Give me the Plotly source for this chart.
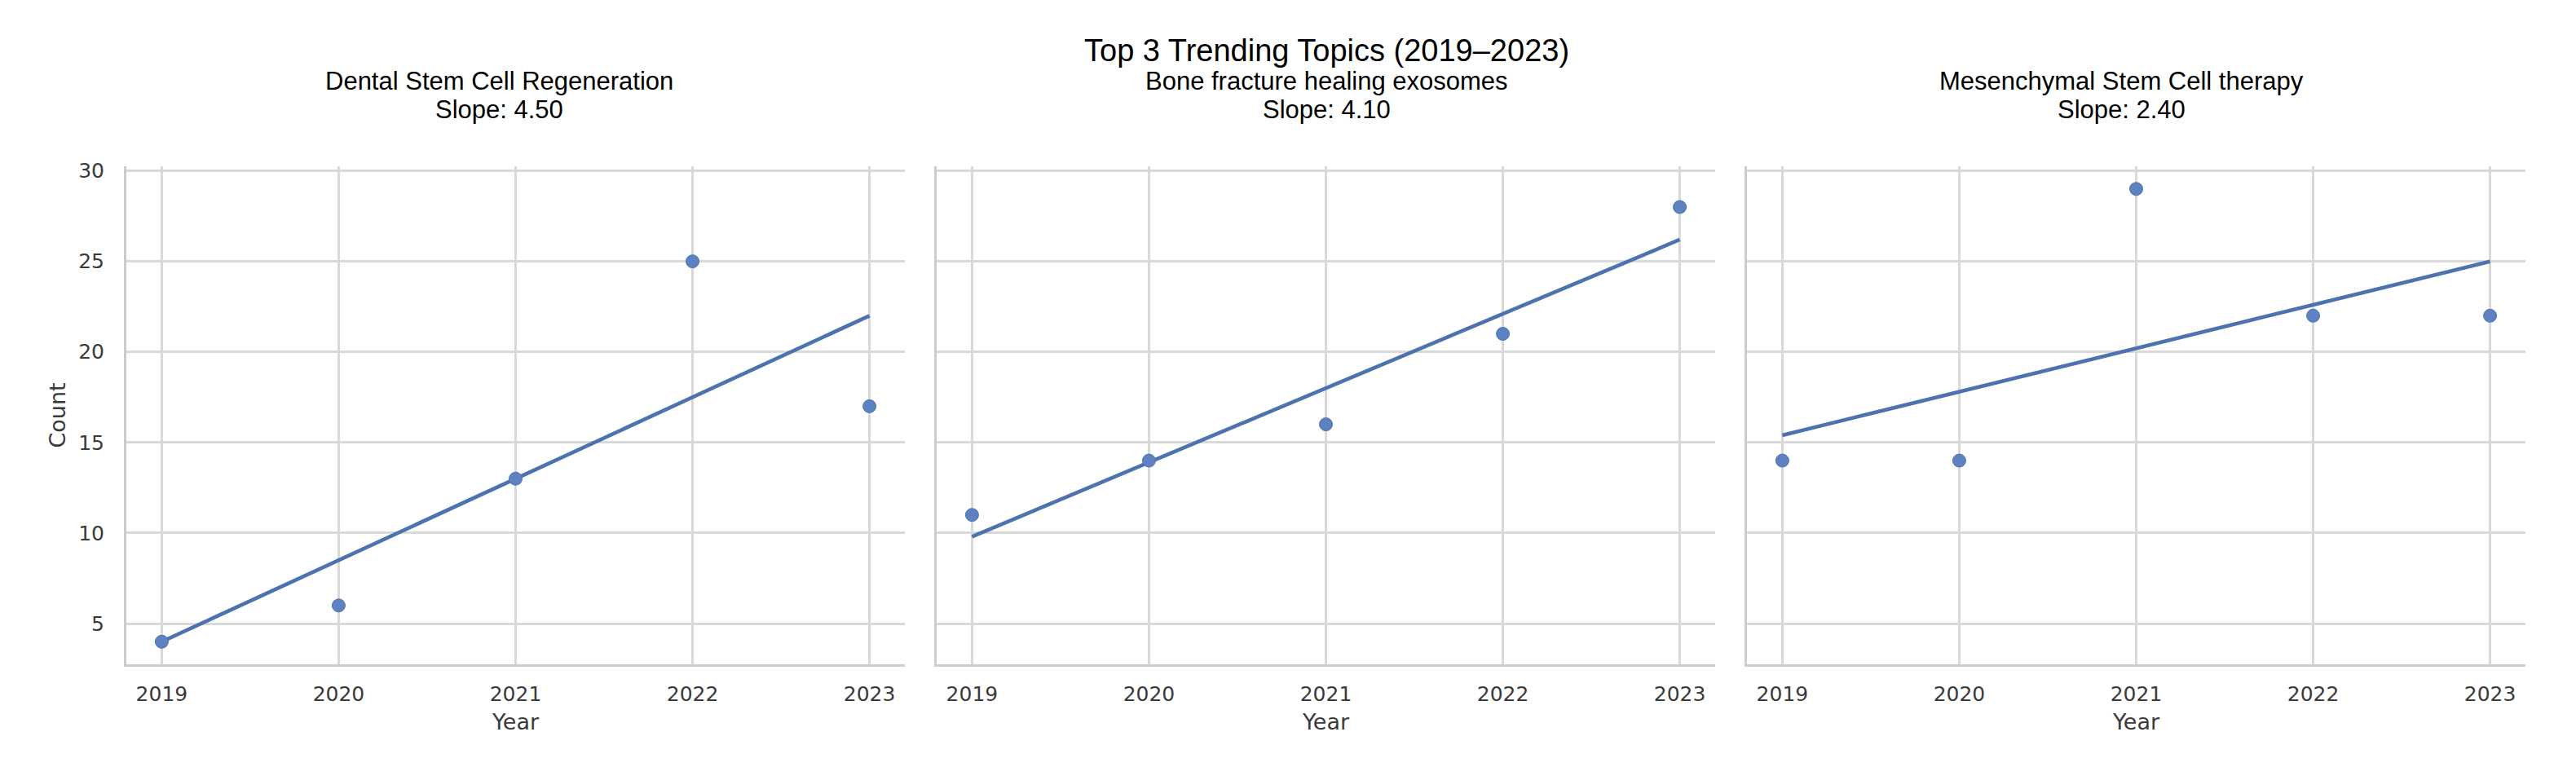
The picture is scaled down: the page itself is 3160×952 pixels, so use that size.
import numpy as np
import plotly.graph_objects as go

W, H = 3160, 952

years = [2019, 2020, 2021, 2022, 2023]
topics = ["Dental Stem Cell Regeneration", "Bone fracture healing exosomes", "Mesenchymal Stem Cell therapy"]
dental_counts = [4, 6, 13, 25, 17]
bone_counts = [11, 14, 16, 21, 28]
msc_counts = [14, 14, 29, 22, 22]
series = [dental_counts, bone_counts, msc_counts]
y_ticks = [5, 10, 15, 20, 25, 30]
x_ticks = years

main_title = "Top 3 Trending Topics (2019–2023)"

# layout in screen pixels (page body has an 8px margin)
OFF = 8
panels_px = [(155, 1110), (1149, 2104), (2143, 3098)]
title_cx = [612, 1628, 2602]
plot_top, plot_bottom = 204, 815

LINE = "#4c72b0"
MARK = "#5d81c1"
GRID = "#d9d9d9"
SPINE = "#cccccc"
TICKC = "#3a3a3a"
TFONT = "Liberation Sans, Arial, sans-serif"
AFONT = "DejaVu Sans, sans-serif"

def px_x(x):
    return (x - OFF) / W

def px_y(y):
    return 1 - (y - OFF) / H

fig = go.Figure()

for i, (vals, topic) in enumerate(zip(series, topics)):
    xa = "x" if i == 0 else f"x{i+1}"
    ya = "y" if i == 0 else f"y{i+1}"
    slope, intercept = np.polyfit(years, vals, 1)
    fit = [slope * yr + intercept for yr in years]
    fig.add_trace(go.Scatter(x=years, y=fit, mode="lines",
                             line=dict(color=LINE, width=4.6),
                             xaxis=xa, yaxis=ya, showlegend=False, hoverinfo="skip"))
    fig.add_trace(go.Scatter(x=years, y=vals, mode="markers",
                             marker=dict(color=MARK, size=16, line=dict(color=LINE, width=1)),
                             xaxis=xa, yaxis=ya, showlegend=False))
    l, r = panels_px[i]
    xkey = "xaxis" if i == 0 else f"xaxis{i+1}"
    ykey = "yaxis" if i == 0 else f"yaxis{i+1}"
    fig.layout[xkey] = dict(
        domain=[px_x(l), px_x(r)], range=[2018.8, 2023.2],
        tickvals=x_ticks, ticktext=[str(v) for v in x_ticks],
        showgrid=True, gridcolor=GRID, gridwidth=2.5, zeroline=False,
        showline=True, linecolor=SPINE, linewidth=3, mirror=False,
        ticks="", ticklabelstandoff=12, automargin=False,
        tickfont=dict(family=AFONT, size=25, color=TICKC),
        title=dict(text="Year", font=dict(family=AFONT, size=27, color=TICKC), standoff=12),
        anchor=ya,
    )
    fig.layout[ykey] = dict(
        domain=[px_y(plot_bottom), px_y(plot_top)], range=[2.75, 30.25],
        tickvals=y_ticks, ticktext=[str(v) for v in y_ticks] if i == 0 else None,
        showticklabels=(i == 0),
        showgrid=True, gridcolor=GRID, gridwidth=2.5, zeroline=False,
        showline=True, linecolor=SPINE, linewidth=3, mirror=False,
        ticks="", ticklabelstandoff=19, automargin=False,
        tickfont=dict(family=AFONT, size=25, color=TICKC),
        title=dict(text="Count" if i == 0 else "", font=dict(family=AFONT, size=27, color=TICKC), standoff=8),
        anchor=xa,
    )
    fig.add_annotation(x=px_x(title_cx[i]), y=px_y(100), xref="paper", yref="paper",
                       text=topic, showarrow=False, xanchor="center", yanchor="middle",
                       font=dict(family=TFONT, size=31, color="#000000"))
    fig.add_annotation(x=px_x(title_cx[i]), y=px_y(135), xref="paper", yref="paper",
                       text=f"Slope: {slope:.2f}", showarrow=False, xanchor="center", yanchor="middle",
                       font=dict(family=TFONT, size=31, color="#000000"))

fig.add_annotation(x=px_x(1628), y=px_y(62), xref="paper", yref="paper",
                   text=main_title, showarrow=False, xanchor="center", yanchor="middle",
                   font=dict(family=TFONT, size=38, color="#000000"))

fig.update_layout(width=W, height=H, margin=dict(l=0, r=0, t=0, b=0, autoexpand=False),
                  paper_bgcolor="white", plot_bgcolor="white")

fig.write_html("out.html")
